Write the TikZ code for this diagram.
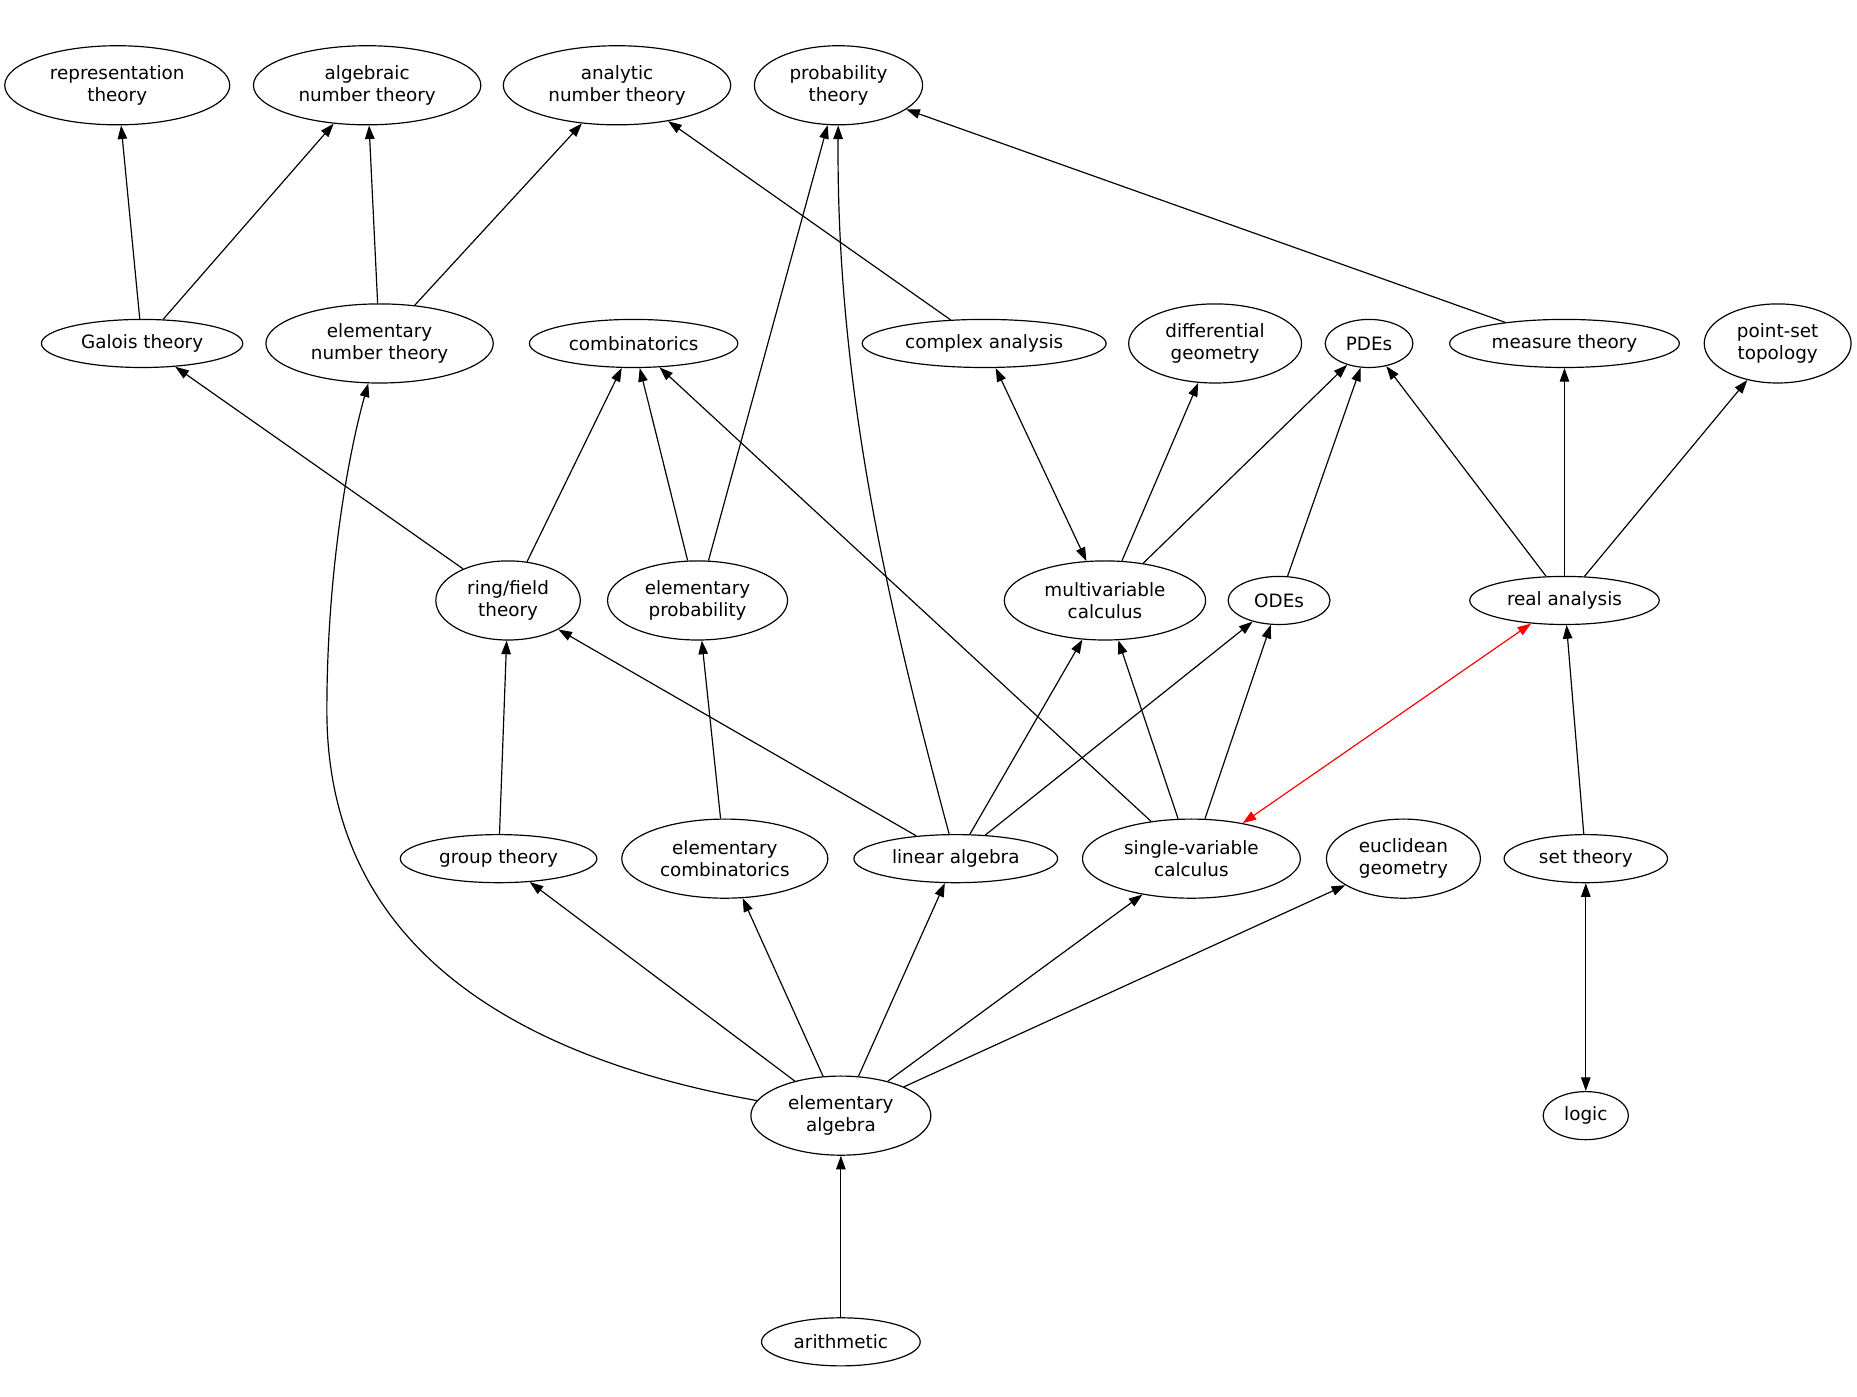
\documentclass[tikz,border=0pt]{standalone}
\usepackage{fontspec}
\setmainfont{DejaVu Sans}
\usetikzlibrary{shapes.geometric,arrows.meta}
\tikzset{
  gv/.style={ellipse, draw, line width=1pt, inner sep=0pt, align=center,
    font=\fontsize{15.5}{19}\selectfont},
  one/.style={minimum height=40.6pt},
  two/.style={minimum height=66.8pt},
  w/.style={minimum width=#1},
  edge/.style={line width=1pt, -{Triangle[length=11.5pt,width=8pt]}},
  bidir/.style={line width=1pt, {Triangle[length=11.5pt,width=8pt]}-{Triangle[length=11.5pt,width=8pt]}},
}
\begin{document}
\begin{tikzpicture}[x=1pt,y=-1pt]
\fill[white] (0,0) rectangle (1568,1179);
\useasboundingbox (0,0) rectangle (1568,1179);
% row 1
\node[gv,two,w=190pt] (rep) at (99,72) {representation\\theory};
\node[gv,two,w=192pt] (algnt) at (310,72) {algebraic\\number theory};
\node[gv,two,w=192pt] (anant) at (521,72) {analytic\\number theory};
\node[gv,two,w=142pt] (probth) at (708,72) {probability\\theory};
% row 2
\node[gv,one,w=170pt] (galois) at (120,290) {Galois theory};
\node[gv,two,w=192pt] (elemnt) at (320.5,290) {elementary\\number theory};
\node[gv,one,w=176pt] (comb) at (535,290) {combinatorics};
\node[gv,one,w=206pt] (complex) at (831,290) {complex analysis};
\node[gv,two,w=146pt] (diffgeo) at (1026,290) {differential\\geometry};
\node[gv,one,w=74pt] (pdes) at (1156,290) {PDEs};
\node[gv,one,w=194pt] (measure) at (1321,290) {measure theory};
\node[gv,two,w=124pt] (pointset) at (1501,290) {point-set\\topology};
% row 3
\node[gv,two,w=122pt] (ring) at (429,507) {ring/field\\theory};
\node[gv,two,w=152pt] (elemprob) at (589,507) {elementary\\probability};
\node[gv,two,w=170pt] (multi) at (933,507) {multivariable\\calculus};
\node[gv,one,w=86pt] (odes) at (1080,507) {ODEs};
\node[gv,one,w=160pt] (real) at (1321,507) {real analysis};
% row 4
\node[gv,one,w=166pt] (group) at (421,725) {group theory};
\node[gv,two,w=174pt] (elemcomb) at (612,725) {elementary\\combinatorics};
\node[gv,one,w=172pt] (linalg) at (807,725) {linear algebra};
\node[gv,two,w=184pt] (single) at (1006,725) {single-variable\\calculus};
\node[gv,two,w=130pt] (euclid) at (1185,725) {euclidean\\geometry};
\node[gv,one,w=138pt] (settheory) at (1339,725) {set theory};
% row 5
\node[gv,two,w=152pt] (elemalg) at (710,942) {elementary\\algebra};
\node[gv,one,w=72pt] (logic) at (1339,942) {logic};
% row 6
\node[gv,one,w=134pt] (arith) at (710,1133) {arithmetic};
% edges
\draw[edge] (galois) -- (rep);
\draw[edge] (galois) -- (algnt);
\draw[edge] (elemnt) -- (algnt);
\draw[edge] (elemnt) -- (anant);
\draw[edge] (complex) -- (anant);
\draw[edge] (elemprob) -- (probth);
\draw[edge] (linalg) .. controls (752,520) and (706,330) .. (probth);
\draw[edge] (measure) -- (probth);
\draw[edge] (ring) -- (galois);
\draw[edge] (ring) -- (comb);
\draw[edge] (elemprob) -- (comb);
\draw[edge] (single) -- (comb);
\draw[bidir] (complex) -- (multi);
\draw[edge] (multi) -- (diffgeo);
\draw[edge] (multi) -- (pdes);
\draw[edge] (odes) -- (pdes);
\draw[edge] (real) -- (pdes);
\draw[edge] (real) -- (measure);
\draw[edge] (real) -- (pointset);
\draw[edge] (group) -- (ring);
\draw[edge] (linalg) -- (ring);
\draw[edge] (elemcomb) -- (elemprob);
\draw[edge] (linalg) -- (multi);
\draw[edge] (single) -- (multi);
\draw[edge] (linalg) -- (odes);
\draw[edge] (single) -- (odes);
\draw[bidir, red] (real) -- (single);
\draw[edge] (settheory) -- (real);
\draw[bidir] (settheory) -- (logic);
\draw[edge] (elemalg) -- (group);
\draw[edge] (elemalg) -- (elemcomb);
\draw[edge] (elemalg) -- (linalg);
\draw[edge] (elemalg) -- (single);
\draw[edge] (elemalg) -- (euclid);
\draw[edge] (elemalg) .. controls (420,890) and (276,790) .. (276,600) .. controls (276,480) and (295,380) .. (elemnt);
\draw[edge] (arith) -- (elemalg);
\end{tikzpicture}
\end{document}
